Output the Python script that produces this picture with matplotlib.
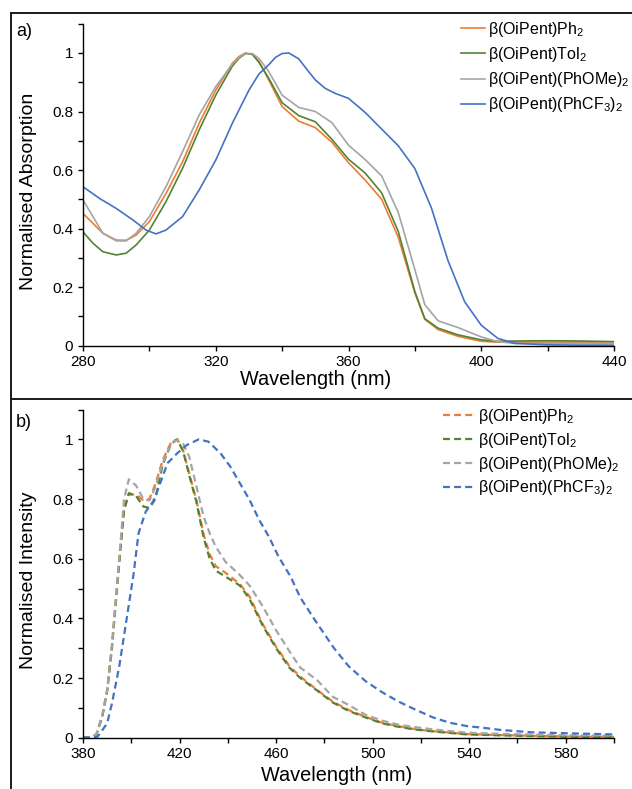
import numpy as np
from matplotlib import pyplot as plt
from matplotlib.lines import Line2D
from matplotlib.ticker import MultipleLocator, FuncFormatter

# ---- data ----
names = [r"β(OiPent)Ph$_2$", r"β(OiPent)Tol$_2$",
         r"β(OiPent)(PhOMe)$_2$", r"β(OiPent)(PhCF$_3$)$_2$"]
colors = ["#ED7D31", "#548235", "#A5A5A5", "#4472C4"]

# a) absorption
abs_wl = [280, 283, 286, 290, 293, 296, 300, 305, 310, 315, 320, 325, 327, 329, 331, 333,
          336, 340, 345, 350, 355, 360, 365, 370, 375, 380, 383, 387, 393, 400, 405, 410,
          420, 430, 440]
abs_ph = [0.452, 0.418, 0.384, 0.361, 0.360, 0.378, 0.424, 0.520, 0.628, 0.760, 0.873,
          0.965, 0.988, 1.000, 0.995, 0.972, 0.907, 0.817, 0.767, 0.745, 0.695, 0.625,
          0.566, 0.500, 0.370, 0.180, 0.090, 0.055, 0.032, 0.015, 0.012, 0.012, 0.012,
          0.012, 0.010]
abs_tol = [0.389, 0.350, 0.321, 0.310, 0.316, 0.344, 0.395, 0.492, 0.606, 0.737, 0.856,
           0.955, 0.982, 0.998, 0.996, 0.968, 0.913, 0.830, 0.786, 0.765, 0.705, 0.637,
           0.590, 0.522, 0.390, 0.185, 0.092, 0.060, 0.037, 0.020, 0.015, 0.016, 0.017,
           0.016, 0.014]
abs_ome = [0.498, 0.441, 0.384, 0.358, 0.358, 0.384, 0.441, 0.543, 0.663, 0.788, 0.885,
           0.962, 0.985, 0.998, 0.998, 0.982, 0.936, 0.856, 0.814, 0.800, 0.762, 0.685,
           0.636, 0.580, 0.455, 0.260, 0.140, 0.085, 0.062, 0.030, 0.014, 0.008, 0.008,
           0.008, 0.008]
abs_wl_cf3 = [280, 285, 290, 295, 299, 302, 305, 310, 315, 320, 325, 330, 333, 336, 338,
              340, 342, 345, 348, 350, 353, 356, 360, 365, 370, 375, 380, 385, 390, 395,
              400, 405, 410, 420, 430, 440]
abs_cf3 = [0.543, 0.503, 0.469, 0.430, 0.395, 0.382, 0.395, 0.441, 0.532, 0.634, 0.760,
           0.873, 0.928, 0.960, 0.985, 0.998, 1.000, 0.980, 0.936, 0.908, 0.879, 0.862,
           0.845, 0.797, 0.740, 0.683, 0.605, 0.470, 0.290, 0.150, 0.070, 0.025, 0.008,
           0.003, 0.002, 0.002]

# b) emission
em_wl = [380, 383, 385.5, 388, 390, 392, 394, 395.5, 397, 399, 402, 405, 407.5, 410, 413,
         416.5, 419, 421.5, 424, 427, 430, 432.5, 435, 439, 445, 449, 454.5, 460, 465.5,
         470, 477, 483.5, 490, 497, 504, 511, 518, 525, 532, 539, 552, 580, 600]
em_ph = [0, 0, 0.01, 0.075, 0.16, 0.31, 0.50, 0.64, 0.77, 0.815, 0.815, 0.795, 0.80, 0.85,
         0.93, 0.99, 1.0, 0.962, 0.886, 0.795, 0.68, 0.615, 0.575, 0.553, 0.515, 0.473,
         0.38, 0.305, 0.24, 0.205, 0.16, 0.121, 0.093, 0.07, 0.05, 0.038, 0.028, 0.022,
         0.017, 0.012, 0.009, 0.004, 0.003]
em_tol = [0, 0, 0.01, 0.07, 0.155, 0.30, 0.49, 0.63, 0.76, 0.82, 0.81, 0.775, 0.77, 0.80,
          0.915, 0.985, 1.0, 0.96, 0.88, 0.79, 0.67, 0.60, 0.56, 0.54, 0.51, 0.465, 0.375,
          0.30, 0.235, 0.20, 0.158, 0.118, 0.09, 0.068, 0.048, 0.036, 0.027, 0.021, 0.016,
          0.011, 0.008, 0.003, 0.002]
em_ome = [0, 0, 0.01, 0.075, 0.16, 0.31, 0.50, 0.65, 0.80, 0.866, 0.845, 0.80, 0.795, 0.84,
          0.92, 0.985, 0.998, 0.985, 0.942, 0.842, 0.74, 0.685, 0.64, 0.59, 0.545, 0.51,
          0.44, 0.36, 0.29, 0.235, 0.193, 0.137, 0.11, 0.077, 0.057, 0.043, 0.035, 0.028,
          0.022, 0.017, 0.013, 0.008, 0.007]
em_wl_cf3 = [380, 386, 390, 392, 395, 398, 401, 403, 406, 409, 412, 415, 419, 423, 428, 432,
             437, 441, 445, 449, 453, 457, 461, 466, 470, 477, 484, 490, 497, 504, 511, 518,
             525, 532, 539, 546, 553, 566, 580, 600]
em_cf3 = [0, 0.003, 0.048, 0.115, 0.238, 0.394, 0.551, 0.685, 0.758, 0.791, 0.853, 0.92,
          0.953, 0.981, 1.0, 0.992, 0.953, 0.909, 0.853, 0.797, 0.730, 0.674, 0.607, 0.540,
          0.470, 0.383, 0.300, 0.240, 0.190, 0.152, 0.120, 0.093, 0.068, 0.050, 0.039,
          0.033, 0.026, 0.018, 0.015, 0.011]

W, H = 632, 789

plt.rcParams['font.family'] = ['Liberation Sans', 'DejaVu Sans']
plt.rcParams['mathtext.fontset'] = 'custom'
plt.rcParams['mathtext.rm'] = 'Liberation Sans'
plt.rcParams['mathtext.it'] = 'Liberation Sans'
plt.rcParams['lines.scale_dashes'] = False

def fx(px):
  return px / W

def fy(py):
  return 1 - py / H

def ytick(v, pos):
  return "0" if v == 0 else ("1" if abs(v - 1) < 1e-9 else "%g" % v)

def style_axes(ax, xlim, offset):
  for s in ["top", "right"]:
    ax.spines[s].set_visible(False)
  for s in ["left", "bottom"]:
    ax.spines[s].set_linewidth(1.0)
  ax.set_xlim(*xlim)
  ax.set_ylim(0, 1.1)
  ax.xaxis.set_major_locator(MultipleLocator(40, offset=offset))
  ax.xaxis.set_minor_locator(MultipleLocator(20))
  ax.yaxis.set_major_locator(MultipleLocator(0.2))
  ax.yaxis.set_minor_locator(MultipleLocator(0.1))
  ax.yaxis.set_major_formatter(FuncFormatter(ytick))
  ax.tick_params(which="both", direction="out", length=3.5, width=1.0, labelsize=11)
  ax.tick_params(axis="x", pad=3)

fig = plt.figure(figsize=(W / 100, H / 100), dpi=100)

# a) absorption
ax1 = fig.add_axes([fx(83), fy(345.7), fx(614 - 83), (345.7 - 23.7) / H])
for wl, y, c, n in zip([abs_wl, abs_wl, abs_wl, abs_wl_cf3],
                       [abs_ph, abs_tol, abs_ome, abs_cf3], colors, names):
  ax1.plot(wl, y, color=c, lw=1.2, label=n)
style_axes(ax1, (280, 440), 0)
ax1.set_ylabel("Normalised Absorption", fontsize=14)
ax1.set_xlabel("Wavelength (nm)", fontsize=14.3, va="top")
ax1.yaxis.set_label_coords(-0.087, 0.48)
ax1.xaxis.set_label_coords(0.439, -0.077)
ax1.legend(loc="upper left", bbox_to_anchor=(fx(461), fy(20)), bbox_transform=fig.transFigure,
           frameon=False, fontsize=11.5, handlelength=1.5, handletextpad=0.2,
           labelspacing=0.38, borderaxespad=0, borderpad=0)

# b) emission
ax2 = fig.add_axes([fx(83), fy(737.7), fx(614 - 83), (737.7 - 409.5) / H])
for wl, y, c, n in zip([em_wl, em_wl, em_wl, em_wl_cf3],
                       [em_ph, em_tol, em_ome, em_cf3], colors, names):
  ax2.plot(wl, y, color=c, lw=1.6, ls=(0, (5, 3)), label=n)
style_axes(ax2, (380, 600), 20)
ax2.set_ylabel("Normalised Intensity", fontsize=14)
ax2.set_xlabel("Wavelength (nm)", fontsize=14.3, va="top")
ax2.yaxis.set_label_coords(-0.087, 0.48)
ax2.xaxis.set_label_coords(0.478, -0.087)
ax2.legend(loc="upper left", bbox_to_anchor=(fx(443), fy(407)), bbox_transform=fig.transFigure,
           frameon=False, fontsize=11.5, handlelength=2.0, handletextpad=0.2,
           labelspacing=0.3, borderaxespad=0, borderpad=0)

# panel labels and frame
fig.text(fx(16), fy(36), "a)", fontsize=13)
fig.text(fx(16), fy(427), "b)", fontsize=13)
lc = "#1a1a1a"
fig.add_artist(Line2D([fx(11), fx(11)], [fy(13), 0], transform=fig.transFigure, color=lc, lw=1.4))
fig.add_artist(Line2D([fx(11), 1], [fy(13), fy(13)], transform=fig.transFigure, color=lc, lw=1.4))
fig.add_artist(Line2D([fx(11), 1], [fy(399), fy(399)], transform=fig.transFigure, color=lc, lw=1.4))

fig.savefig("out.png", dpi=100)
